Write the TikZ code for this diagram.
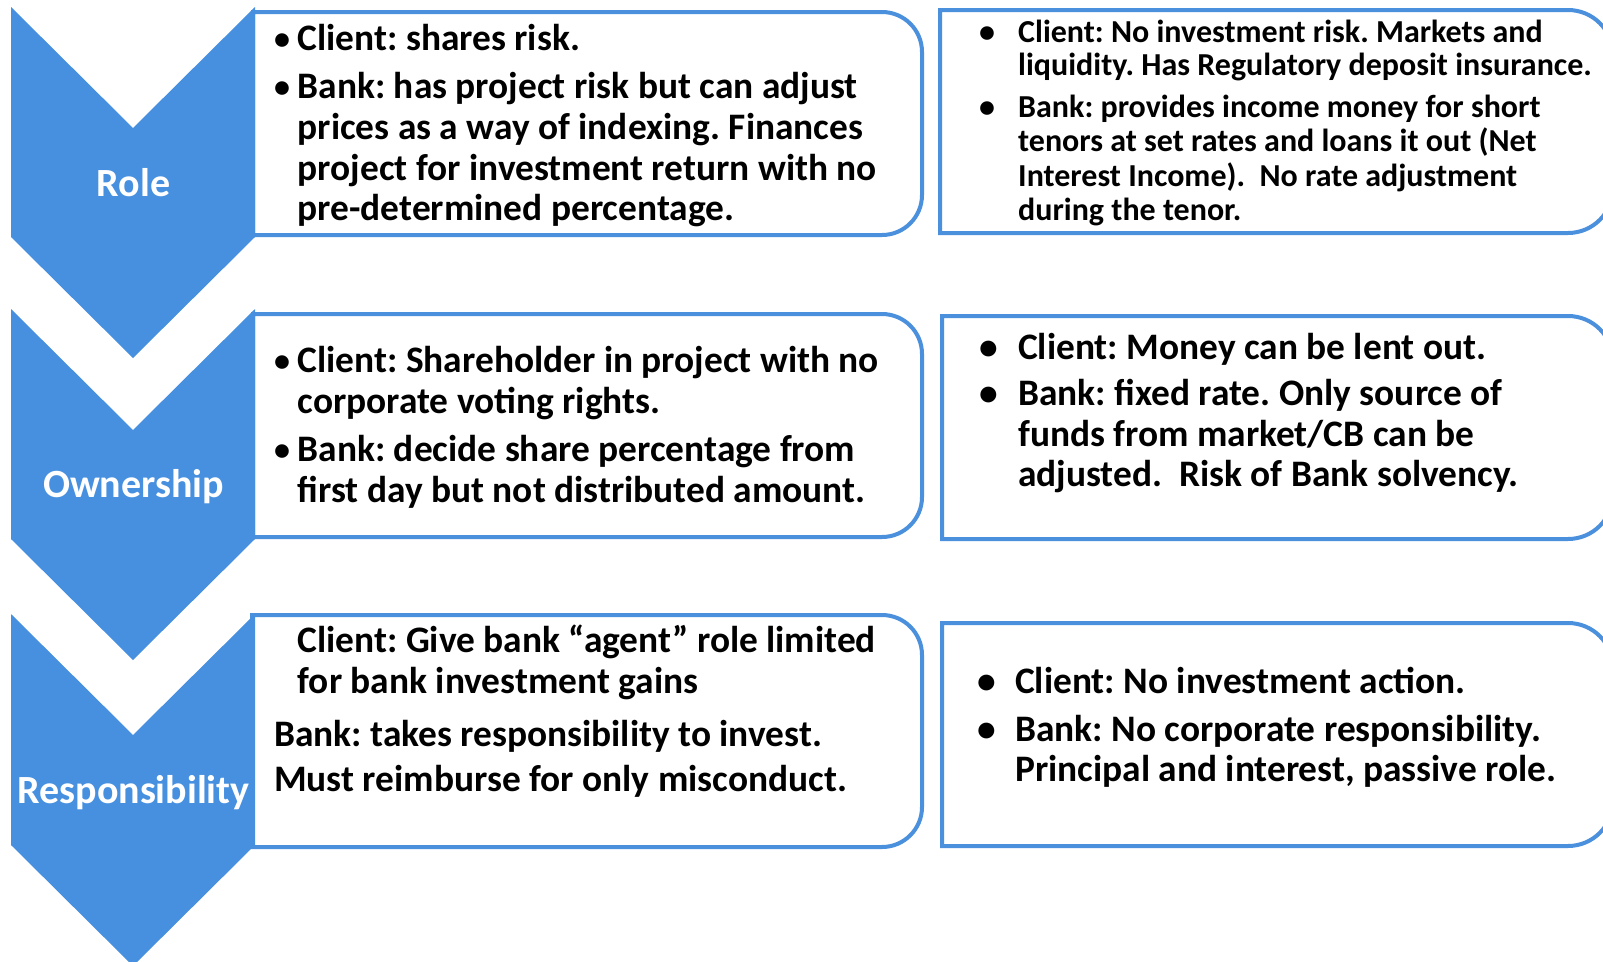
\documentclass[tikz,border=0pt]{standalone}
\usepackage{fontspec}
\setmainfont{Carlito}
\frenchspacing
\definecolor{chevblue}{HTML}{4690DF}
\definecolor{boxblue}{HTML}{4A90DC}
\tikzset{
  chev/.style={fill=chevblue, draw=none},
  boxline/.style={draw=boxblue, line width=4, fill=white},
  lbl/.style={text=white, anchor=base, inner sep=0, font=\fontsize{40}{42}\selectfont\bfseries},
  txt/.style={anchor=base west, inner sep=0, font=\fontsize{37.4}{41}\selectfont\bfseries},
  stxt/.style={anchor=base west, inner sep=0, font=\fontsize{32}{34}\selectfont\bfseries},
  dot/.style={anchor=base west, inner sep=0, font=\fontsize{32}{34}\selectfont\bfseries}
}
% right-rounded box: x0 y0 x1 y1 radius
\newcommand{\rbox}[5]{%
  \draw[boxline] (#1,#2) -- ({#3-#5},#2) arc[start angle=-90, end angle=0, radius=#5]
    -- (#3,{#4-#5}) arc[start angle=0, end angle=90, radius=#5] -- (#1,#4) -- cycle;}
\begin{document}
\begin{tikzpicture}[x=1pt, y=-1pt]
\useasboundingbox (0,0) rectangle (1603,961);
\clip (0,0) rectangle (1603,961);

% boxes
\rbox{253}{12}{922}{235}{40}
\rbox{253}{314}{922}{537}{40}
\rbox{252}{615}{922}{847}{40}
\rbox{940}{10}{1613}{233}{45}
\rbox{942}{316}{1613}{539}{45}
\rbox{942}{623}{1613}{846}{45}

% chevrons
\fill[chev] (11,7) -- (133,128) -- (255,7) -- (255,237) -- (133,358) -- (11,237) -- cycle;
\fill[chev] (11,309) -- (133,430) -- (255,309) -- (255,539) -- (133,660) -- (11,539) -- cycle;
\fill[chev] (11,614) -- (133,735) -- (255,614) -- (255,845) -- (133,966) -- (11,845) -- cycle;

\node[lbl] (role) at (133.5,196) {Role};
\node[lbl] (own) at (133.5,497) {Ownership};
\node[lbl] (resp) at (133.5,803) {Responsibility};

% Role, left
\node[dot] (l1b1) at (274,49) {•};
\node[txt] (l1a) at (297.5,50) {Client: shares risk.};
\node[dot] (l1b2) at (274,97) {•};
\node[txt] (l1b) at (297.5,98) {Bank: has project risk but can adjust};
\node[txt] (l1c) at (297.5,139) {prices as a way of indexing. Finances};
\node[txt] (l1d) at (297.5,180) {project for investment return with no};
\node[txt] (l1e) at (297.5,220.5) {pre-determined percentage.};

% Ownership, left
\node[dot] (l2b1) at (274,371) {•};
\node[txt] (l2a) at (297.5,372) {Client: Shareholder in project with no};
\node[txt] (l2b) at (297.5,413) {corporate voting rights.};
\node[dot] (l2b2) at (274,460) {•};
\node[txt] (l2c) at (297.5,461) {Bank: decide share percentage from};
\node[txt] (l2d) at (297.5,502) {first day but not distributed amount.};

% Responsibility, left
\node[txt] (l3a) at (297.5,652) {Client: Give bank “agent” role limited};
\node[txt] (l3b) at (297.5,693) {for bank investment gains};
\node[txt] (l3c) at (274,746) {Bank: takes responsibility to invest.};
\node[txt] (l3d) at (274,791) {Must reimburse for only misconduct.};

% Role, right
\node[stxt] (r1b1) at (979,42) {•};
\node[stxt] (r1a) at (1018,42) {Client: No investment risk. Markets and};
\node[stxt] (r1b) at (1018,75.5) {liquidity. Has Regulatory deposit insurance.};
\node[stxt] (r1b2) at (979,117.5) {•};
\node[stxt] (r1c) at (1018,117.5) {Bank: provides income money for short};
\node[stxt] (r1d) at (1018,151) {tenors at set rates and loans it out (Net};
\node[stxt] (r1e) at (1018,186) {Interest Income).\ \ No rate adjustment};
\node[stxt] (r1f) at (1018,220) {during the tenor.};

% Ownership, right
\node[txt] (r2b1) at (979,359) {•};
\node[txt] (r2a) at (1018,359) {Client: Money can be lent out.};
\node[txt] (r2b2) at (979,405) {•};
\node[txt] (r2b) at (1018,405) {Bank: fixed rate. Only source of};
\node[txt] (r2c) at (1018,446) {funds from market/CB can be};
\node[txt] (r2d) at (1018,486.5) {adjusted.\ \ Risk of Bank solvency.};

% Responsibility, right
\node[txt] (r3b1) at (977,693) {•};
\node[txt] (r3a) at (1015,693) {Client: No investment action.};
\node[txt] (r3b2) at (977,741) {•};
\node[txt] (r3b) at (1015,741) {Bank: No corporate responsibility.};
\node[txt] (r3c) at (1015,781) {Principal and interest, passive role.};
\end{tikzpicture}
\end{document}
